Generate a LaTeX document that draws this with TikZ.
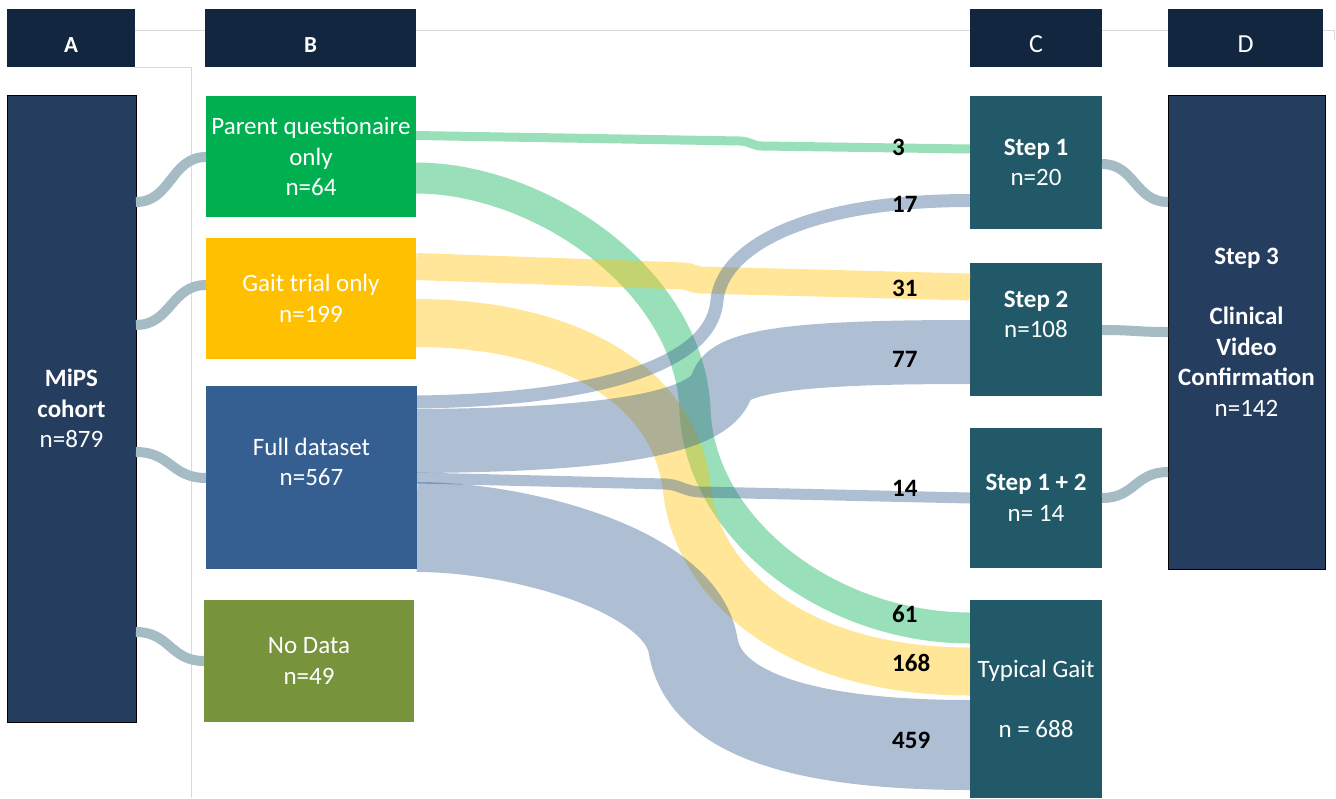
\documentclass[tikz,border=0pt]{standalone}
\usepackage{fontspec}
\setmainfont{Carlito}
\definecolor{hdr}{RGB}{18,38,64}
\definecolor{cnavy}{RGB}{37,61,94}
\definecolor{cteal}{RGB}{33,89,104}
\definecolor{cgreen}{RGB}{0,176,80}
\definecolor{cyellow}{RGB}{255,192,0}
\definecolor{cblue}{RGB}{54,95,145}
\definecolor{colive}{RGB}{119,147,60}
\definecolor{conn}{RGB}{165,188,196}
\definecolor{gline}{RGB}{217,217,217}
\begin{document}
\begin{tikzpicture}[x=1pt,y=-1pt,
  font=\fontsize{25}{30.5}\selectfont,
  box/.style={minimum width=#1, inner sep=0pt, outer sep=0pt, text=white, align=center},
  hdrbox/.style={box=#1, minimum height=58pt, fill=hdr},
  hdrtxt/.style={text=white, font=\fontsize{23}{27}\selectfont\bfseries, inner sep=0pt},
  hdrtxtb/.style={text=white, font=\fontsize{26}{30}\selectfont, inner sep=0pt},
  boxtxt/.style={text=white, align=center, inner sep=0pt},
  band/.style={line width=#1, draw opacity=0.4, line cap=butt, line join=round},
  linkc/.style={draw=conn, line width=10pt},
  gl/.style={draw=gline, line width=1pt},
  num/.style={font=\fontsize{25}{30}\selectfont\bfseries, anchor=west, inner sep=0pt}]
\useasboundingbox (0,0) rectangle (1336,798);

% header boxes
\node[hdrbox=128pt] (hA) at (71,38) {};
\node[hdrbox=211pt] (hB) at (310.5,38) {};
\node[hdrbox=132pt] (hC) at (1036,38) {};
\node[hdrbox=155pt] (hD) at (1245.5,38) {};
\node[hdrtxt] (tA) at (71,45) {A};
\node[hdrtxt] (tB) at (310.5,45) {B};
\node[hdrtxtb] (tC) at (1036,44) {C};
\node[hdrtxtb] (tD) at (1245.5,44) {D};

% grey guide lines
\draw[gl] (hA.east |- 0,30) -- (hB.west |- 0,30);
\draw[gl] (hB.east |- 0,30) -- (hC.west |- 0,30);
\draw[gl] (hC.east |- 0,30) -- (hD.west |- 0,30);
\draw[gl] (hD.east |- 0,30) -- (1334,30) -- (1334,40);
\draw[gl] (hA.south east) -- (191,67) -- (191,798);

% main boxes
\node[box=129pt, minimum height=627pt, fill=cnavy, draw=black, line width=0.8pt] (A) at (71.5,408.5)
  {\textbf{MiPS}\\\textbf{cohort}\\n=879};
\node[box=210pt, minimum height=121pt, fill=cgreen] (pq) at (311,156.5)
  {Parent questionaire\\only\\n=64};
\node[box=210pt, minimum height=121pt, fill=cyellow] (gt) at (311,298.5)
  {Gait trial only\\n=199};
\node[box=211pt, minimum height=183pt, fill=cblue] (fd) at (311.5,477.5) {};
\node[boxtxt] (fdt) at (311.5,462) {Full dataset\\n=567};
\node[box=210pt, minimum height=122pt, fill=colive] (nd) at (309,661)
  {No Data\\n=49};

\node[box=132pt, minimum height=133pt, fill=cteal] (s1) at (1036,162.5)
  {\textbf{Step 1}\\n=20};
\node[box=132pt, minimum height=133pt, fill=cteal] (s2) at (1036,329.5) {};
\node[boxtxt] (s2t) at (1036,314.5) {\textbf{Step 2}\\n=108};
\node[box=132pt, minimum height=140pt, fill=cteal] (s12) at (1036,498)
  {\textbf{Step 1 + 2}\\n= 14};
\node[box=132pt, minimum height=198pt, fill=cteal] (tg) at (1036,699)
  {Typical Gait\\[30pt]n = 688};
\node[box=157pt, minimum height=474pt, fill=cnavy, draw=black, line width=0.8pt] (D) at (1246.5,332)
  {\textbf{Step 3}\\[30pt]\textbf{Clinical}\\\textbf{Video}\\\textbf{Confirmation}\\n=142};

% connectors A -> B
\draw[linkc] (A.east |- 0,202) .. controls (171,202) and (171,157) .. (pq.west |- 0,157);
\draw[linkc] (A.east |- 0,325) .. controls (171,325) and (171,285) .. (gt.west |- 0,285);
\draw[linkc] (A.east |- 0,452) .. controls (171,452) and (171,478) .. (fd.west |- 0,478);
\draw[linkc] (A.east |- 0,632) .. controls (170,632) and (170,661) .. (nd.west |- 0,661);

% connectors C -> D
\draw[linkc] (s1.east |- 0,164) .. controls (1135,164) and (1135,202) .. (D.west |- 0,202);
\draw[linkc] (s2.east |- 0,330) .. controls (1135,330) and (1135,332) .. (D.west |- 0,332);
\draw[linkc] (s12.east |- 0,498) .. controls (1135,498) and (1135,472) .. (D.west |- 0,472);

% flow bands
\draw[band=9pt, draw=cgreen] (pq.east |- 0,135.5) -- (740,141)
  .. controls (750,141.3) and (752,145.7) .. (762,146) -- (s1.west |- 0,149);
\draw[band=31pt, draw=cgreen] (pq.east |- 0,178) .. controls (540,178) and (690,280) .. (695,410)
  .. controls (700,530) and (830,628) .. (tg.west |- 0,628);
\draw[band=27pt, draw=cyellow] (gt.east |- 0,266.5) -- (684,276)
  .. controls (690,276.2) and (694,279.8) .. (700,280) -- (s2.west |- 0,287);
\draw[band=48pt, draw=cyellow] (gt.east |- 0,323) .. controls (560,323) and (675,380) .. (687,490)
  .. controls (697,580) and (790,671.5) .. (tg.west |- 0,671.5);
\draw[band=13pt, draw=cblue] (fd.east |- 0,402) .. controls (580,400) and (712,370) .. (717,300)
  .. controls (722,250) and (800,200.5) .. (s1.west |- 0,200.5);
\draw[band=64pt, draw=cblue] (fd.east |- 0,441) .. controls (600,440) and (710,425) .. (722,385)
  .. controls (730,358) and (820,352) .. (s2.west |- 0,352);
\draw[band=11pt, draw=cblue] (fd.east |- 0,478) -- (665,484)
  .. controls (680,484.5) and (685,491.5) .. (700,492) -- (s12.west |- 0,498);
\draw[band=90pt, draw=cblue] (fd.east |- 0,527) .. controls (520,527) and (680,570) .. (693,645)
  .. controls (705,720) and (820,745) .. (tg.west |- 0,745);

% flow labels
\node[num] (l3) at (892,147) {3};
\node[num] (l17) at (892,204) {17};
\node[num] (l31) at (892,288) {31};
\node[num] (l77) at (892,359) {77};
\node[num] (l14) at (892,488) {14};
\node[num] (l61) at (892,614) {61};
\node[num] (l168) at (892,663) {168};
\node[num] (l459) at (892,740) {459};
\end{tikzpicture}
\end{document}
